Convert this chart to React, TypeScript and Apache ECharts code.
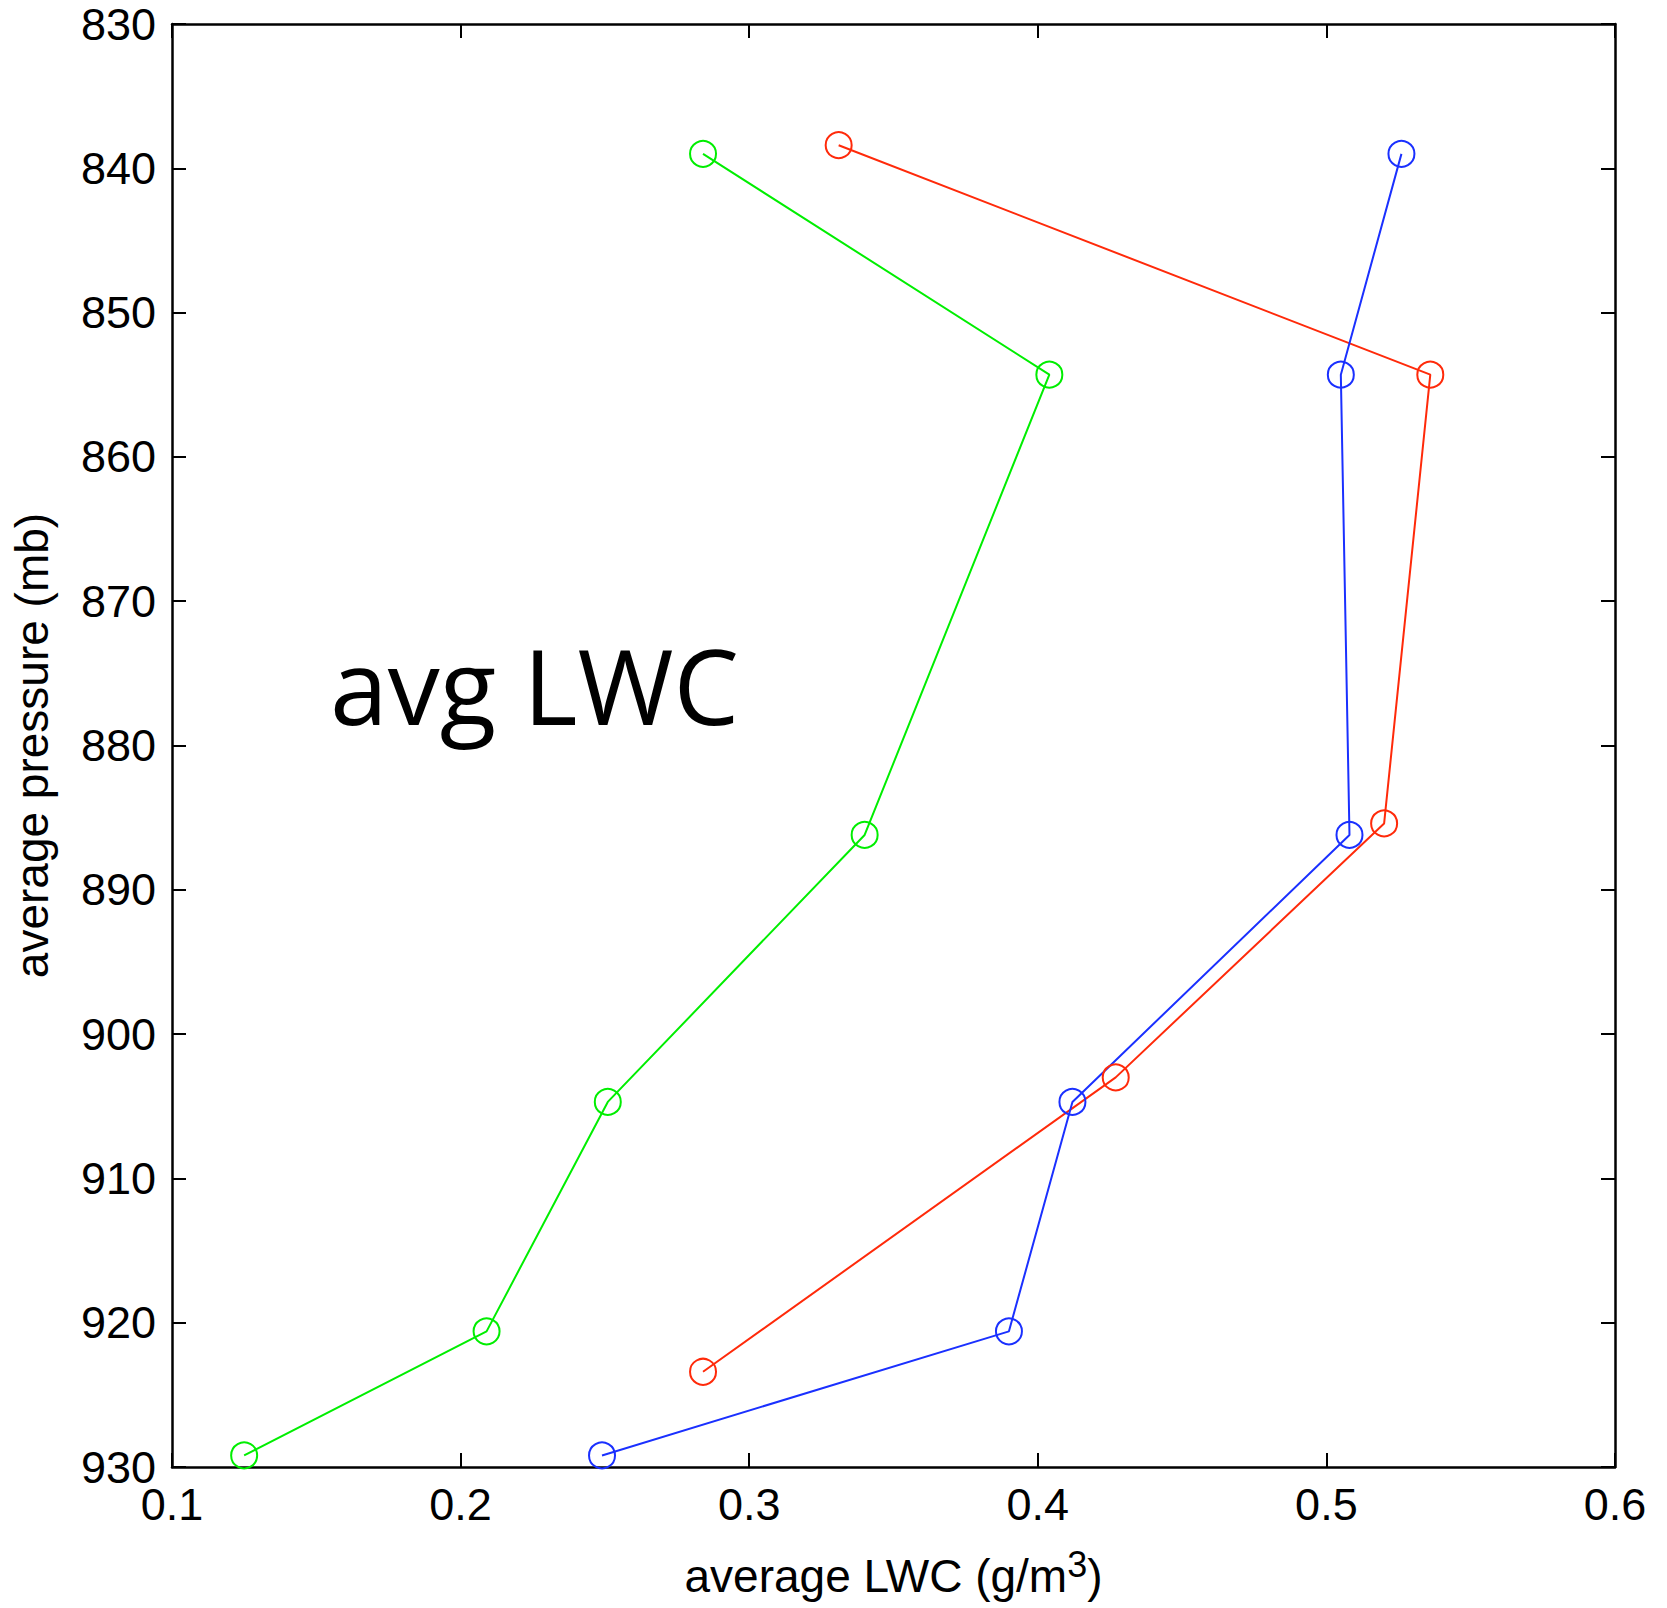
import React, { useEffect, useRef } from "react";
import * as echarts from "echarts";

// LWC (g/m^3) and pressure (mb) for each profile
const lwcGreen = [0.284, 0.404, 0.34, 0.251, 0.209, 0.125];
const presGreen = [839.0, 854.3, 886.2, 904.7, 920.6, 929.2];
const lwcRed = [0.331, 0.536, 0.52, 0.427, 0.284];
const presRed = [838.4, 854.3, 885.4, 903.0, 923.4];
const lwcBlue = [0.526, 0.505, 0.508, 0.412, 0.39, 0.249];
const presBlue = [839.0, 854.3, 886.2, 904.7, 920.6, 929.2];

const xTicks = [0.1, 0.2, 0.3, 0.4, 0.5, 0.6];
const yTicks = [830, 840, 850, 860, 870, 880, 890, 900, 910, 920, 930];

const FONT = "'Liberation Sans', Arial, Helvetica, sans-serif";

function pairs(xs: number[], ys: number[]) {
  return xs.map((x, i) => [x, ys[i]]);
}

export default function App() {
  const ref = useRef<HTMLDivElement>(null);
  useEffect(() => {
    if (!ref.current) return;
    const chart = echarts.init(ref.current, null, { renderer: "svg" });
    const axisLine = { show: true, onZero: false, lineStyle: { color: "#000", width: 2.5 } };
    const axisTick = { show: true, inside: true, length: 14, lineStyle: { color: "#000", width: 2 } };
    const xBase = {
      type: "value" as const,
      min: xTicks[0],
      max: xTicks[xTicks.length - 1],
      interval: 0.1,
      axisLine,
      axisTick,
      splitLine: { show: false },
    };
    const yBase = {
      type: "value" as const,
      min: yTicks[0],
      max: yTicks[yTicks.length - 1],
      interval: 10,
      inverse: true,
      axisLine,
      axisTick,
      splitLine: { show: false },
    };
    const mk = (name: string, color: string, xs: number[], ys: number[]) => ({
      name,
      type: "line" as const,
      data: pairs(xs, ys),
      xAxisIndex: 0,
      yAxisIndex: 0,
      clip: false,
      symbol: "circle",
      symbolSize: 26,
      lineStyle: { color, width: 2 },
      itemStyle: { color: "rgba(0,0,0,0)", borderColor: color, borderWidth: 2 },
    });
    chart.setOption({
      animation: false,
      backgroundColor: "#fff",
      grid: {
        left: 172,
        right: 52,
        top: 24,
        bottom: 141,
        containLabel: false,
        outerBoundsMode: "none",
      },
      xAxis: [
        {
          ...xBase,
          position: "bottom",
          axisLabel: {
            show: true,
            margin: 15,
            fontSize: 45,
            color: "#000",
            fontFamily: FONT,
            formatter: (v: number) => v.toFixed(1),
          },
          name: "average LWC (g/m{sup|3})",
          nameLocation: "middle",
          nameGap: 79,
          nameTextStyle: {
            fontSize: 46,
            lineHeight: 60,
            color: "#000",
            fontFamily: FONT,
            rich: {
              sup: { fontSize: 36, color: "#000", fontFamily: FONT, verticalAlign: "top", lineHeight: 18 },
            },
          },
        },
        { ...xBase, position: "top", axisLabel: { show: false } },
      ],
      yAxis: [
        {
          ...yBase,
          position: "left",
          axisLabel: { show: true, margin: 16, fontSize: 45, color: "#000", fontFamily: FONT },
          name: "average pressure (mb)",
          nameLocation: "middle",
          nameRotate: 90,
          nameGap: 117,
          nameTextStyle: { fontSize: 46, color: "#000", fontFamily: FONT },
        },
        { ...yBase, position: "right", axisLabel: { show: false } },
      ],
      series: [
        mk("green", "#00ee00", lwcGreen, presGreen),
        mk("red", "#ff2a0a", lwcRed, presRed),
        mk("blue", "#1a30ff", lwcBlue, presBlue),
      ],
      graphic: [
        {
          type: "text",
          left: 330,
          top: 632,
          style: {
            text: "avg LWC",
            fontSize: 104,
            fontFamily: "'Open Sans', 'Noto Sans', sans-serif",
            fill: "#000",
          },
        },
      ],
    });
    return () => chart.dispose();
  }, []);
  return (
    <div
      ref={ref}
      style={{ position: "fixed", left: 0, top: 0, width: 1667, height: 1608, background: "#fff" }}
    />
  );
}
